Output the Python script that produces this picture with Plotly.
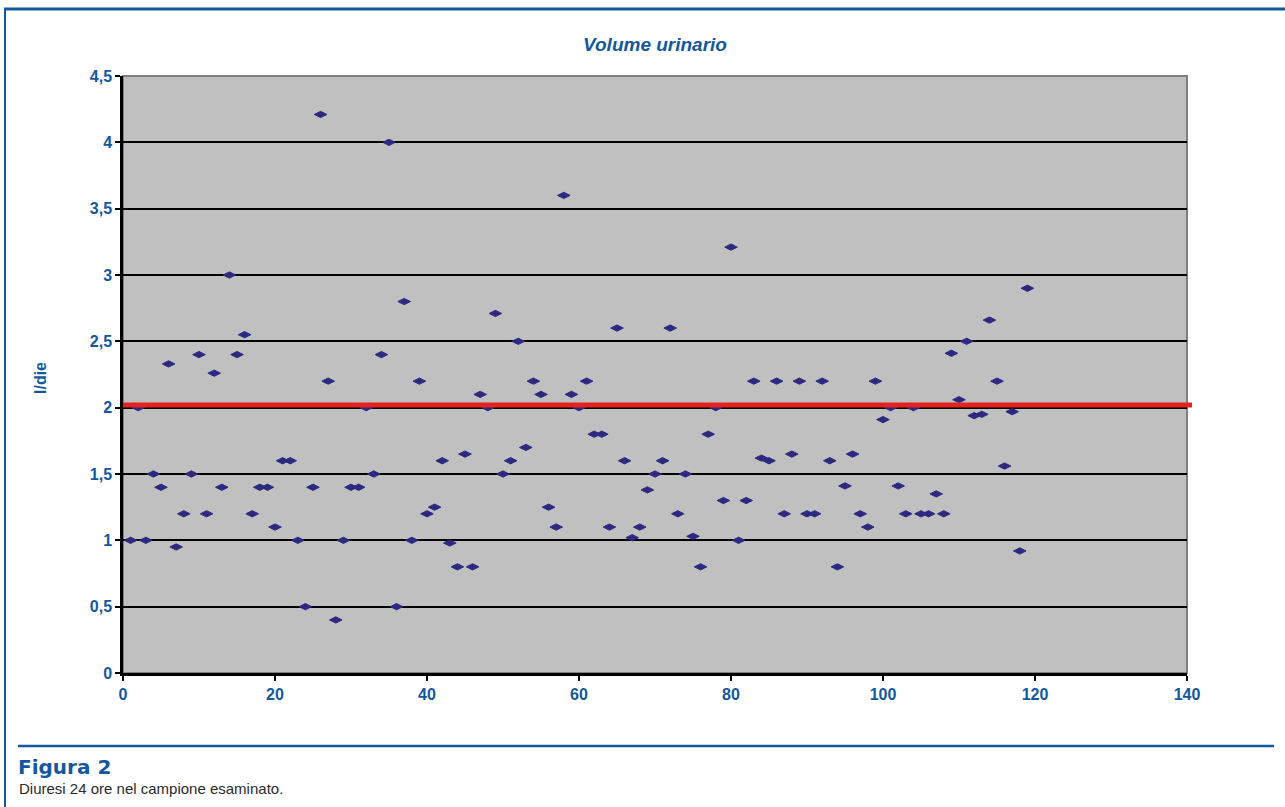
import plotly.graph_objects as go

# ---- data ----
subject_index = list(range(1, 120))
volume_l_die = [
    1.0, 2.0, 1.0, 1.5, 1.4, 2.33, 0.95, 1.2, 1.5, 2.4,
    1.2, 2.26, 1.4, 3.0, 2.4, 2.55, 1.2, 1.4, 1.4, 1.1,
    1.6, 1.6, 1.0, 0.5, 1.4, 4.21, 2.2, 0.4, 1.0, 1.4,
    1.4, 2.0, 1.5, 2.4, 4.0, 0.5, 2.8, 1.0, 2.2, 1.2,
    1.25, 1.6, 0.98, 0.8, 1.65, 0.8, 2.1, 2.0, 2.71, 1.5,
    1.6, 2.5, 1.7, 2.2, 2.1, 1.25, 1.1, 3.6, 2.1, 2.0,
    2.2, 1.8, 1.8, 1.1, 2.6, 1.6, 1.02, 1.1, 1.38, 1.5,
    1.6, 2.6, 1.2, 1.5, 1.03, 0.8, 1.8, 2.0, 1.3, 3.21,
    1.0, 1.3, 2.2, 1.62, 1.6, 2.2, 1.2, 1.65, 2.2, 1.2,
    1.2, 2.2, 1.6, 0.8, 1.41, 1.65, 1.2, 1.1, 2.2, 1.91,
    2.0, 1.41, 1.2, 2.0, 1.2, 1.2, 1.35, 1.2, 2.41, 2.06,
    2.5, 1.94, 1.95, 2.66, 2.2, 1.56, 1.97, 0.92, 2.9,
]
reference_value = 2.02
y_tick_vals = [0, 0.5, 1, 1.5, 2, 2.5, 3, 3.5, 4, 4.5]
y_tick_text = ["0", "0,5", "1", "1,5", "2", "2,5", "3", "3,5", "4", "4,5"]
x_tick_vals = [0, 20, 40, 60, 80, 100, 120, 140]
x_tick_text = ["0", "20", "40", "60", "80", "100", "120", "140"]

title_text = "Volume urinario"
y_title = "l/die"
fig_label = "Figura 2"
fig_caption = "Diuresi 24 ore nel campione esaminato."

# ---- layout geometry (pixels) ----
W, H = 1285, 807
PL, PR, PT, PB = 123, 1187, 76, 673
BLUE = "#13589e"
TICKFONT = dict(family="Liberation Sans", size=16, color=BLUE, weight="bold")


def px(x):
    return (x - PL) / (PR - PL)


def py(y):
    return (PB - y) / (PB - PT)


fig = go.Figure()
fig.add_trace(go.Scatter(
    x=subject_index, y=volume_l_die, mode="markers",
    marker=dict(symbol="diamond-wide", size=9, color="#2b2a80",
                line=dict(width=1, color="#2b2a80")),
    cliponaxis=False, hoverinfo="x+y", showlegend=False,
))

shapes = [
    # grey top/right frame of plot area
    dict(type="rect", xref="paper", yref="paper", x0=0, x1=1, y0=0, y1=1,
         line=dict(color="#7f7f7f", width=2), layer="below"),
    # red reference line
    dict(type="line", xref="paper", yref="y", x0=0, x1=px(1192),
         y0=reference_value, y1=reference_value,
         line=dict(color="#e3231f", width=5), layer="above"),
    # outer blue frame: top and left
    dict(type="line", xref="paper", yref="paper", x0=px(4), x1=px(W),
         y0=py(9), y1=py(9), line=dict(color=BLUE, width=3)),
    dict(type="line", xref="paper", yref="paper", x0=px(5), x1=px(5),
         y0=py(9), y1=py(H + 2), line=dict(color=BLUE, width=2)),
    # caption separator
    dict(type="line", xref="paper", yref="paper", x0=px(18), x1=px(1274),
         y0=py(746), y1=py(746), line=dict(color=BLUE, width=2.5)),
]

annotations = [
    dict(text=y_title, xref="paper", yref="paper", x=px(40), y=py(378),
         textangle=-90, showarrow=False, xanchor="center", yanchor="middle",
         font=dict(family="Liberation Sans", size=16, color=BLUE,
                   weight="bold")),
    dict(text=fig_label, xref="paper", yref="paper", x=px(16), y=py(767),
         showarrow=False, xanchor="left", yanchor="middle",
         font=dict(family="DejaVu Sans", size=20, color=BLUE, weight="bold")),
    dict(text=fig_caption, xref="paper", yref="paper", x=px(17), y=py(788),
         showarrow=False, xanchor="left", yanchor="middle",
         font=dict(family="Liberation Sans", size=15, color="#2b2b2b")),
]

fig.update_layout(
    width=W, height=H, autosize=False,
    margin=dict(l=PL, r=W - PR, t=PT, b=H - PB, pad=0),
    paper_bgcolor="white", plot_bgcolor="#c0c0c0",
    title=dict(text=title_text, x=0.5, xref="paper", xanchor="center",
               y=1 - 44 / H, yanchor="middle",
               font=dict(family="Liberation Sans", size=19, color=BLUE,
                         weight="bold", style="italic")),
    shapes=shapes, annotations=annotations,
    font=dict(family="Liberation Sans", color=BLUE),
)

fig.update_xaxes(
    range=[0, 140], tickvals=x_tick_vals, ticktext=x_tick_text,
    showgrid=False, zeroline=False, showline=True, linecolor="black",
    linewidth=2.5, ticks="outside", ticklen=5, tickwidth=2, tickcolor="black",
    tickfont=TICKFONT,
)
fig.update_yaxes(
    range=[0, 4.5], tickvals=y_tick_vals, ticktext=y_tick_text,
    showgrid=True, gridcolor="black", gridwidth=2, zeroline=False,
    showline=True, linecolor="black", linewidth=2.5, ticks="outside",
    ticklen=5, tickwidth=2, tickcolor="black",
    tickfont=TICKFONT,
)

fig.write_html("out.html",
               config={"displayModeBar": False},
               post_script="document.body.style.margin='0';"
                           "document.body.style.padding='0';")
